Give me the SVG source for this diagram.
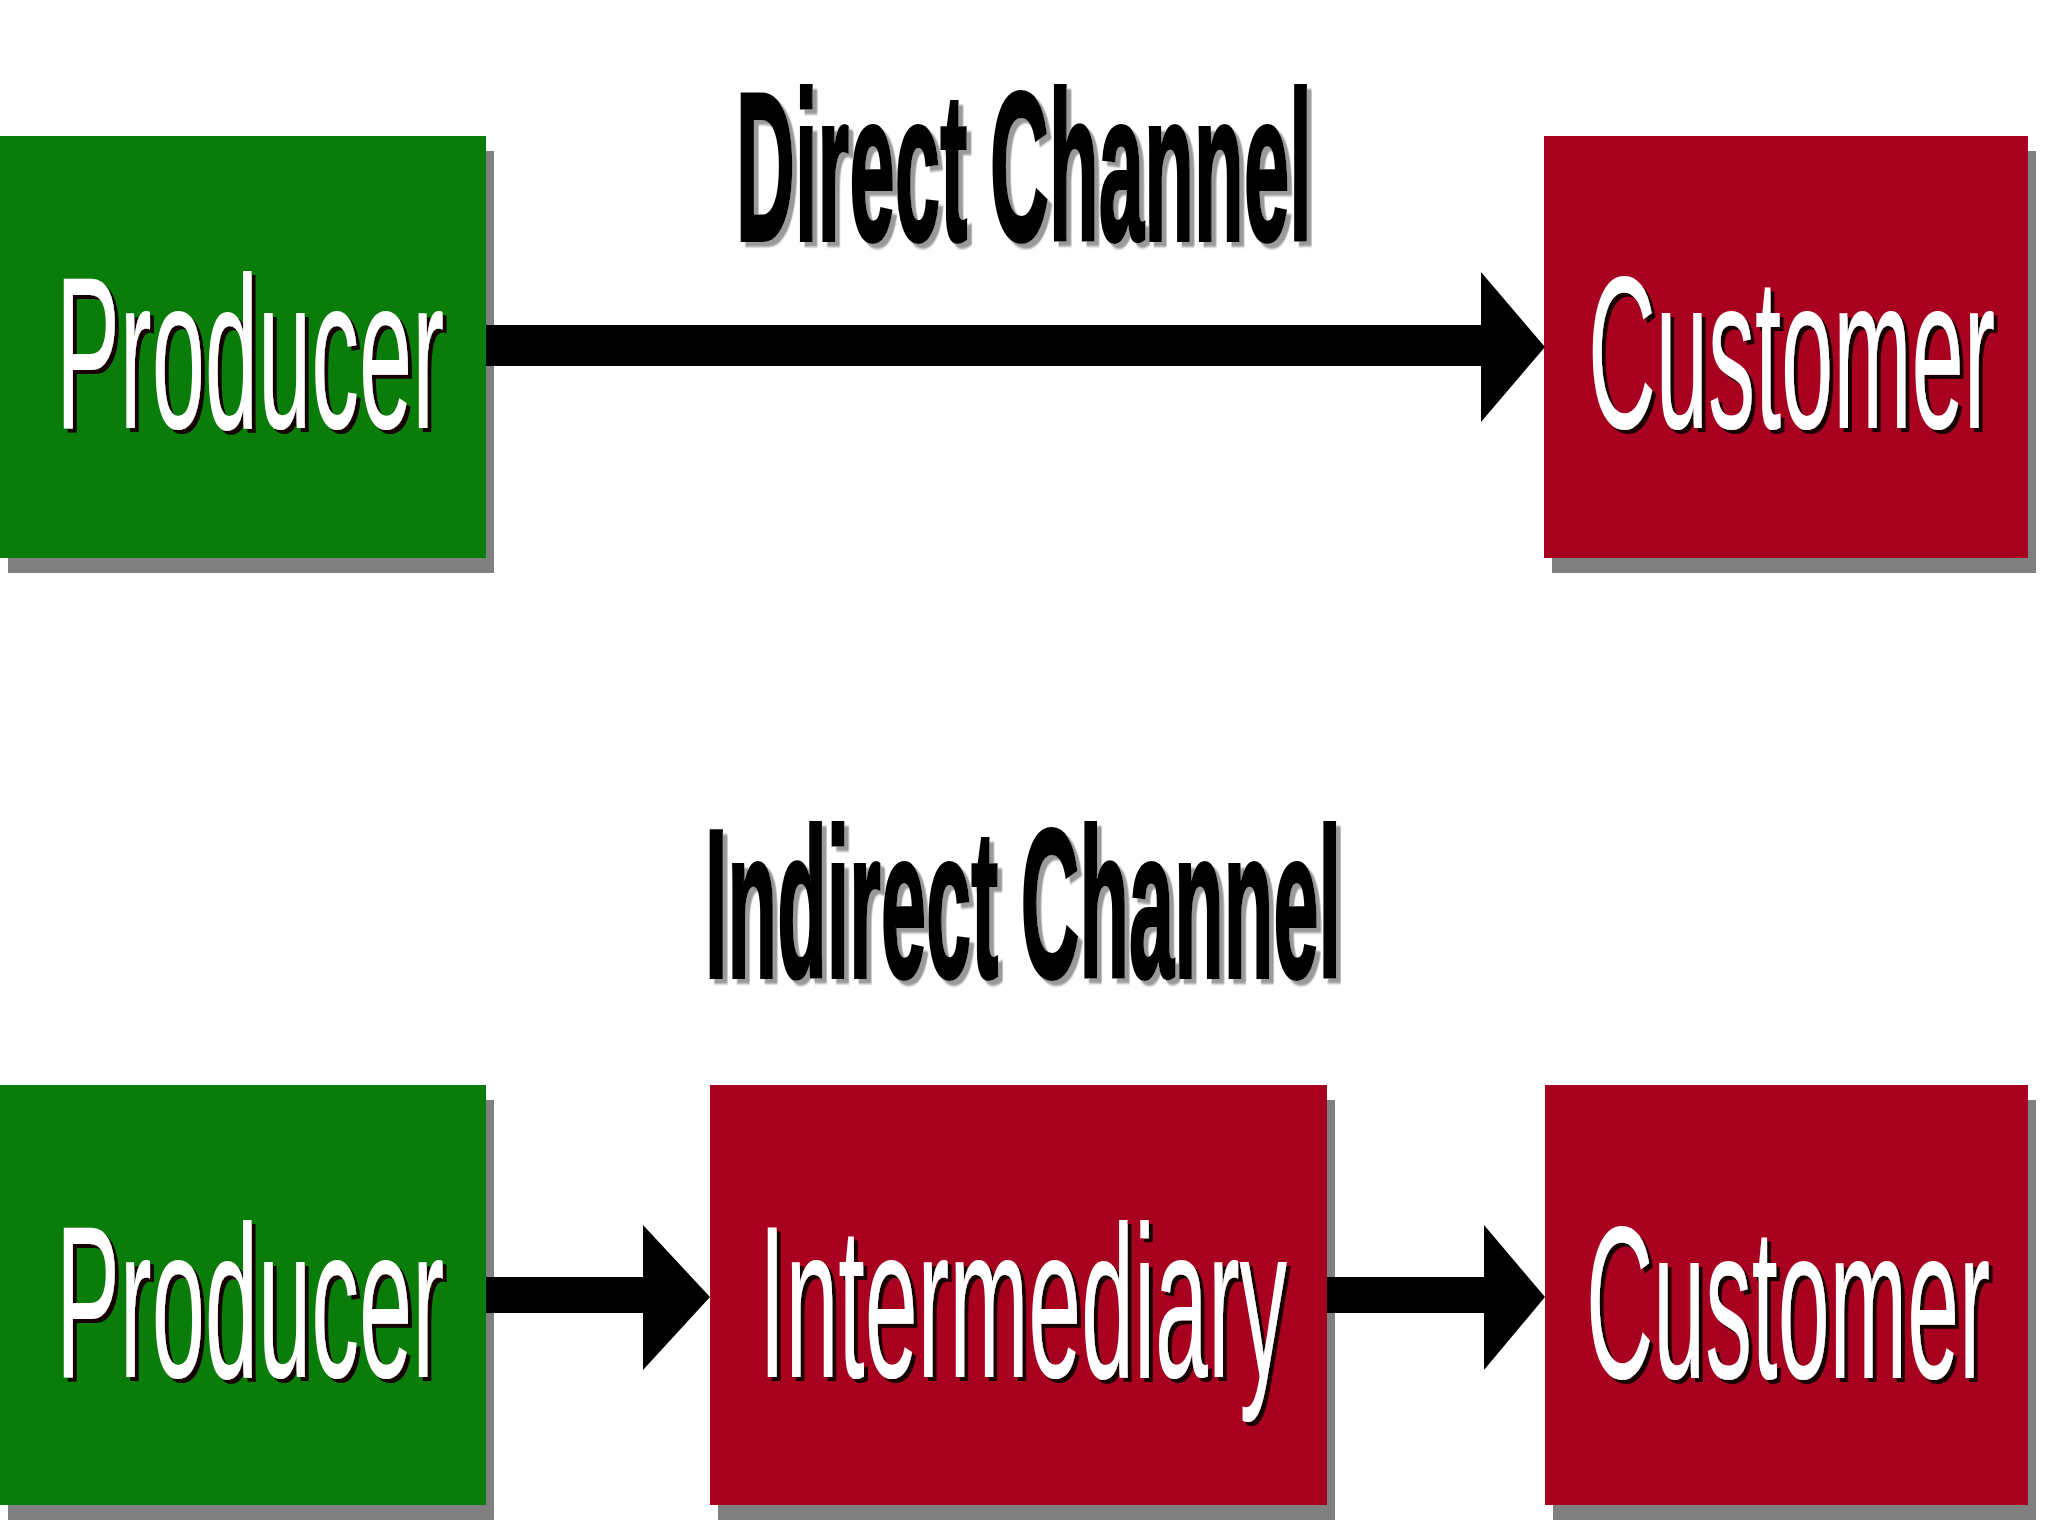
<svg xmlns="http://www.w3.org/2000/svg" width="2048" height="1536" viewBox="0 0 2048 1536">
<defs>
<filter id="darkShadow" x="-5%" y="-5%" width="115%" height="120%">
<feDropShadow dx="9" dy="4" stdDeviation="0.6" flood-color="#140505" flood-opacity="1"/>
</filter>
<filter id="grayShadow" x="-5%" y="-5%" width="115%" height="120%">
<feDropShadow dx="12" dy="5" stdDeviation="0.8" flood-color="#9a9a9a" flood-opacity="1"/>
</filter>
</defs>
<style>
.bg{fill:#ffffff}
.shadow{fill:#808080}
.green{fill:#0a7c0a}
.red{fill:#a8001f}
.lbl{font-family:"Liberation Sans",Arial,sans-serif;font-size:218px;font-weight:normal;fill:#ffffff;filter:url(#darkShadow)}
.ttl{font-family:"Liberation Sans",Arial,sans-serif;font-size:212px;font-weight:bold;fill:#000000;stroke:#000000;stroke-width:3;vector-effect:non-scaling-stroke;filter:url(#grayShadow)}
.arrow{fill:#000000}
</style>
<rect class="bg" x="0" y="0" width="2048" height="1536"/>

<g id="title-direct">
<text class="ttl" transform="translate(736,240) scale(0.385,1)" x="0" y="0">Direct Channel</text>
</g>
<g id="title-indirect">
<text class="ttl" transform="translate(705,977) scale(0.383,1)" x="0" y="0">Indirect Channel</text>
</g>

<g id="producer-direct">
<rect class="shadow" x="8" y="151" width="486" height="422"/>
<rect class="green" x="0" y="136" width="486" height="422"/>
<text class="lbl" transform="translate(56,428) scale(0.4387,1)" x="0" y="0">Producer</text>
</g>
<g id="customer-direct">
<rect class="shadow" x="1552" y="151" width="484" height="422"/>
<rect class="red" x="1544" y="136" width="484" height="422"/>
<text class="lbl" transform="translate(1588,428) scale(0.4308,1)" x="0" y="0">Customer</text>
</g>

<g id="producer-indirect">
<rect class="shadow" x="8" y="1100" width="486" height="420"/>
<rect class="green" x="0" y="1085" width="486" height="420"/>
<text class="lbl" transform="translate(56,1377) scale(0.4387,1)" x="0" y="0">Producer</text>
</g>
<g id="intermediary">
<rect class="shadow" x="718" y="1100" width="617" height="420"/>
<rect class="red" x="710" y="1085" width="617" height="420"/>
<text class="lbl" transform="translate(759,1377) scale(0.4359,1)" x="0" y="0">Intermediary</text>
</g>
<g id="customer-indirect">
<rect class="shadow" x="1553" y="1100" width="483" height="420"/>
<rect class="red" x="1545" y="1085" width="483" height="420"/>
<text class="lbl" transform="translate(1586,1378) scale(0.4276,1)" x="0" y="0">Customer</text>
</g>

<g id="connectors">
<polygon class="arrow" points="486,325 1481,325 1481,272 1545,347 1481,422 1481,366 486,366"/>
<polygon class="arrow" points="486,1277 643,1277 643,1225 710,1297 643,1370 643,1313 486,1313"/>
<polygon class="arrow" points="1327,1277 1484,1277 1484,1225 1545,1297 1484,1370 1484,1313 1327,1313"/>
</g>
</svg>
